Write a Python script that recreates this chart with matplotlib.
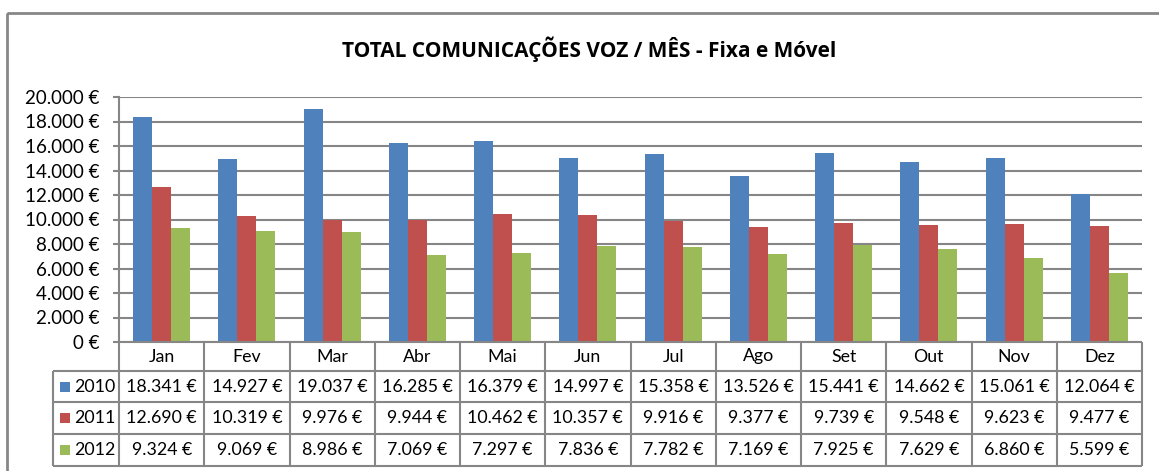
import matplotlib.pyplot as plt
import matplotlib.transforms as mtransforms
from matplotlib.patches import Rectangle
from matplotlib.ticker import FuncFormatter, MultipleLocator

plt.rcParams['font.family'] = ['Lato', 'DejaVu Sans']

# Dados mensais (EUR)
meses = ["Jan", "Fev", "Mar", "Abr", "Mai", "Jun", "Jul", "Ago", "Set", "Out", "Nov", "Dez"]
anos = ["2010", "2011", "2012"]
v2010 = [18341, 14927, 19037, 16285, 16379, 14997, 15358, 13526, 15441, 14662, 15061, 12064]
v2011 = [12690, 10319, 9976, 9944, 10462, 10357, 9916, 9377, 9739, 9548, 9623, 9477]
v2012 = [9324, 9069, 8986, 7069, 7297, 7836, 7782, 7169, 7925, 7629, 6860, 5599]
cores = ["#4F81BD", "#C0504D", "#9BBB59"]

series = [v2010, v2011, v2012]
W, H = 1159, 471
grid_cor = "#868686"


def euro(v, pos=None):
    return f"{int(round(v)):,} €".replace(",", ".")


fig = plt.figure(figsize=(W / 100, H / 100), dpi=100)

# eixo das barras (em pixels: x 119-1142, y 97-342)
ax = fig.add_axes([119 / W, 1 - 342 / H, (1142 - 119) / W, (342 - 97) / H])
larg = 0.223
for k, vals in enumerate(series):
    xs = [i + (k - 1) * larg for i in range(len(meses))]
    ax.bar(xs, vals, width=larg, color=cores[k], edgecolor="none", zorder=3)

ax.set_xlim(-0.5, len(meses) - 0.5)
ax.set_ylim(0, 20000)
ax.yaxis.set_major_locator(MultipleLocator(2000))
ax.yaxis.set_major_formatter(FuncFormatter(euro))
ax.grid(axis="y", color=grid_cor, linewidth=1.5, zorder=0)
for s in ["top", "right", "bottom"]:
    ax.spines[s].set_visible(False)
ax.spines["left"].set_color(grid_cor)
ax.spines["left"].set_linewidth(1.5)
ax.set_xticks([])
ax.tick_params(axis="y", length=4.5, width=1.5, color=grid_cor, labelsize=13.5, pad=9.5)

# camada para tabela, moldura e título (coordenadas em pixels)
ov = fig.add_axes([0, 0, 1, 1], zorder=5)
ov.set_xlim(0, W)
ov.set_ylim(H, 0)
ov.axis("off")
ov.patch.set_alpha(0)

ov.add_patch(Rectangle((7, 13), W + 20, H + 20, fill=False, edgecolor="#878787", linewidth=2))
ov.text(589, 49, "TOTAL COMUNICAÇÕES VOZ / MÊS - Fixa e Móvel", ha="center", va="center",
        fontsize=15, fontweight="bold", family=["Open Sans", "DejaVu Sans"])

# x em dados do eixo das barras, y em pixels
tr = mtransforms.blended_transform_factory(ax.transData, ov.transData)
lw = dict(color=grid_cor, linewidth=1.5, solid_capstyle="butt")

y_cab, y_linhas = 342, [371, 402, 434, 466]
x0, x1 = -0.5, len(meses) - 0.5
ov.plot([x0, x1], [y_cab, y_cab], transform=tr, **lw)
for y in y_linhas:
    ov.plot([53, 119], [y, y], **lw)
    ov.plot([x0, x1], [y, y], transform=tr, **lw)
ov.plot([53, 53], [y_linhas[0], y_linhas[-1]], **lw)
for i in range(len(meses) + 1):
    ov.plot([i - 0.5, i - 0.5], [y_cab, y_linhas[-1]], transform=tr, **lw)

fs_tab = 12.8
for i, m in enumerate(meses):
    ov.text(i, (y_cab + y_linhas[0]) / 2, m, transform=tr, ha="center", va="center", fontsize=fs_tab)

for k, vals in enumerate(series):
    yc = (y_linhas[k] + y_linhas[k + 1]) / 2
    ov.add_patch(Rectangle((60, yc - 5), 10, 10, facecolor=cores[k], edgecolor="none"))
    ov.text(74, yc, anos[k], ha="left", va="center", fontsize=fs_tab)
    for i, v in enumerate(vals):
        ov.text(i, yc, euro(v), transform=tr, ha="center", va="center", fontsize=fs_tab)

fig.savefig("out.png", dpi=100)
